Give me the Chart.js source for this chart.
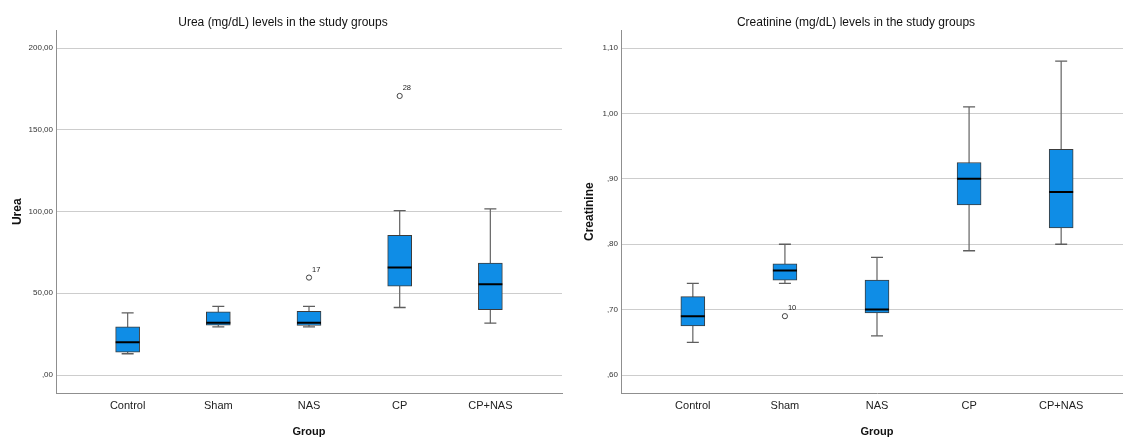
<!DOCTYPE html>
<html><head><meta charset="utf-8">
<script src="https://cdn.jsdelivr.net/npm/chart.js@4.4.0/dist/chart.umd.min.js"></script>
<style>
html,body{margin:0;padding:0;background:#fff;overflow:hidden;width:1123px;height:439px;position:relative;}
#c1{position:absolute;left:0;top:0;}
#c2{position:absolute;left:562px;top:0;}
</style></head><body>
<canvas id="c1" width="576" height="439"></canvas>
<canvas id="c2" width="588" height="439"></canvas>
<script>
const groups = ['Control', 'Sham', 'NAS', 'CP', 'CP+NAS'];

// Urea (mg/dL): five-number summaries
const ureaMin    = [13.0, 29.5, 29.5, 41.3, 31.7];
const ureaQ1     = [14.0, 30.5, 30.3, 54.3, 40.0];
const ureaMedian = [20.0, 32.0, 32.0, 65.7, 55.5];
const ureaQ3     = [29.5, 38.6, 39.0, 85.5, 68.5];
const ureaMax    = [38.0, 42.0, 42.0, 100.6, 101.6];
const ureaOutlierGroup = [2, 3];
const ureaOutlierValue = [59.6, 170.7];
const ureaOutlierLabel = ['17', '28'];
const ureaTicks = [0, 50, 100, 150, 200];
const ureaTickLabels = [',00', '50,00', '100,00', '150,00', '200,00'];

// Creatinine (mg/dL)
const creaMin    = [0.650, 0.740, 0.660, 0.790, 0.800];
const creaQ1     = [0.675, 0.745, 0.695, 0.860, 0.825];
const creaMedian = [0.690, 0.760, 0.700, 0.900, 0.880];
const creaQ3     = [0.720, 0.770, 0.745, 0.925, 0.945];
const creaMax    = [0.740, 0.800, 0.780, 1.010, 1.080];
const creaOutlierGroup = [1];
const creaOutlierValue = [0.690];
const creaOutlierLabel = ['10'];
const creaTicks = [0.6, 0.7, 0.8, 0.9, 1.0, 1.1];
const creaTickLabels = [',60', ',70', ',80', ',90', '1,00', '1,10'];

Chart.defaults.font.family = "'Liberation Sans', Arial, sans-serif";
Chart.defaults.color = '#222';

const outlierLabelPlugin = {
  id: 'outlierLabels',
  afterDatasetsDraw(chart) {
    const idx = chart.data.datasets.findIndex(d => d.outlierLabels);
    if (idx < 0) return;
    const labels = chart.data.datasets[idx].outlierLabels;
    const meta = chart.getDatasetMeta(idx);
    const ctx = chart.ctx;
    ctx.save();
    ctx.font = "7.5px 'Liberation Sans', Arial, sans-serif";
    ctx.fillStyle = '#222';
    ctx.textAlign = 'left';
    ctx.textBaseline = 'middle';
    meta.data.forEach((el, i) => {
      ctx.fillText(labels[i], el.x + 3, el.y - 8);
    });
    ctx.restore();
  }
};

function makeChart(canvas, o) {
  const n = groups.length;
  const whiskerData = [];
  const capData = [];
  for (let i = 0; i < n; i++) {
    whiskerData.push({x: i, y: o.min[i]}, {x: i, y: o.max[i]}, {x: i, y: null});
    capData.push({x: i, y: o.min[i]}, {x: i, y: o.max[i]});
  }
  const boxData = groups.map((g, i) => ({x: i, y: [o.q1[i], o.q3[i]]}));
  const medData = groups.map((g, i) => ({x: i, y: o.med[i]}));
  const outData = o.outGroup.map((g, i) => ({x: g, y: o.outValue[i]}));

  return new Chart(canvas, {
    type: 'bar',
    data: {
      datasets: [
        {type: 'line', data: whiskerData, borderColor: '#6e6e6e', borderWidth: 1.3,
         pointRadius: 0, spanGaps: false, order: 5},
        {type: 'line', data: capData, showLine: false, pointStyle: 'line', pointRadius: 6,
         pointBorderColor: '#5e5e5e', pointBorderWidth: 1.3, order: 4},
        {type: 'bar', data: boxData, backgroundColor: '#0f8de6', borderColor: '#3c3c3c',
         borderWidth: 1, borderSkipped: false, barThickness: 24, grouped: false, order: 3},
        {type: 'line', data: medData, showLine: false, pointStyle: 'line', pointRadius: 12,
         pointBorderColor: '#000', pointBorderWidth: 2, order: 2},
        {type: 'line', data: outData, showLine: false, pointStyle: 'circle', pointRadius: 2.6,
         pointBackgroundColor: '#fff', pointBorderColor: '#444', pointBorderWidth: 1,
         order: 1, outlierLabels: o.outLabel}
      ]
    },
    options: {
      responsive: false,
      animation: false,
      devicePixelRatio: 1,
      layout: {padding: {left: o.padLeft, right: o.padRight, top: 0, bottom: 0}},
      plugins: {
        legend: {display: false},
        tooltip: {enabled: false},
        title: {display: true, text: o.title, color: '#111',
                font: {size: 12, weight: 'normal'}, padding: {top: 15, bottom: 1}}
      },
      scales: {
        x: {
          type: 'linear', min: o.xMin, max: o.xMax, offset: false,
          afterBuildTicks: s => { s.ticks = groups.map((g, i) => ({value: i})); },
          afterFit: s => { s.height = 46; s.paddingLeft = 0; s.paddingRight = 0; },
          ticks: {callback: v => groups[v], autoSkip: false, maxRotation: 0, padding: 6,
                  color: '#222', font: {size: 11}},
          grid: {color: 'rgba(0,0,0,0)', drawTicks: false, offset: false},
          border: {display: true, color: '#8f8f8f', width: 1},
          title: {display: true, text: 'Group', color: '#111',
                  font: {size: 11, weight: 'bold'}, padding: {top: 0, bottom: 0}}
        },
        y: {
          type: 'linear', min: o.yMin, max: o.yMax,
          afterBuildTicks: s => { s.ticks = o.ticks.map(v => ({value: v})); },
          afterFit: s => { s.width = o.yWidth; },
          ticks: {callback: v => o.tickLabels[o.ticks.findIndex(t => Math.abs(t - v) < 1e-9)],
                  padding: 3, color: '#333', font: {size: 8}},
          grid: {color: '#cdcdcd', lineWidth: 1, drawTicks: false},
          border: {display: true, color: '#8f8f8f', width: 1},
          title: {display: true, text: o.yTitle, color: '#111',
                  font: {size: 12, weight: 'bold'}, padding: {top: o.yTitlePad, bottom: 0}}
        }
      }
    },
    plugins: [outlierLabelPlugin]
  });
}

makeChart(document.getElementById('c1'), {
  title: 'Urea (mg/dL) levels in the study groups', yTitle: 'Urea',
  min: ureaMin, q1: ureaQ1, med: ureaMedian, q3: ureaQ3, max: ureaMax,
  outGroup: ureaOutlierGroup, outValue: ureaOutlierValue, outLabel: ureaOutlierLabel,
  ticks: ureaTicks, tickLabels: ureaTickLabels,
  yMin: -11, yMax: 210.8, xMin: -0.79, xMax: 4.79,
  padLeft: 4, padRight: 14, yWidth: 52, yTitlePad: 6
});
makeChart(document.getElementById('c2'), {
  title: 'Creatinine (mg/dL) levels in the study groups', yTitle: 'Creatinine',
  min: creaMin, q1: creaQ1, med: creaMedian, q3: creaQ3, max: creaMax,
  outGroup: creaOutlierGroup, outValue: creaOutlierValue, outLabel: creaOutlierLabel,
  ticks: creaTicks, tickLabels: creaTickLabels,
  yMin: 0.5725, yMax: 1.127, xMin: -0.78, xMax: 4.78,
  padLeft: 17, padRight: 17, yWidth: 42, yTitlePad: 3
});
</script>
</body></html>
